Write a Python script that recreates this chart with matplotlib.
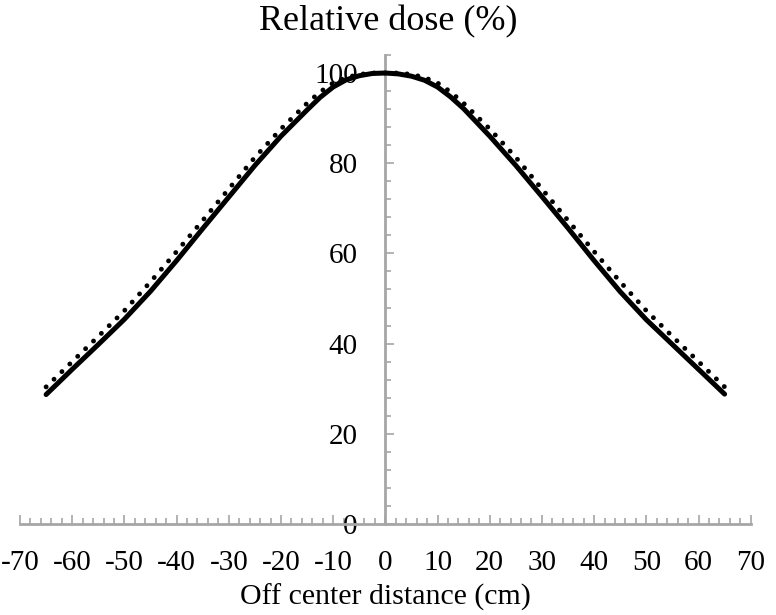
import matplotlib.pyplot as plt
from matplotlib.ticker import MultipleLocator

plt.rcParams["font.family"] = ["Liberation Serif", "DejaVu Serif"]
plt.rcParams["axes.unicode_minus"] = False

# off-center distance (cm)
distance = [-65, -60, -55, -50, -45, -40, -35, -30, -25, -20, -15, -12.5, -10, -7.5, -5, -2.5,
            0, 2.5, 5, 7.5, 10, 12.5, 15, 20, 25, 30, 35, 40, 45, 50, 55, 60, 65]
# relative dose (%), solid profile
dose_solid = [28.7, 34.3, 39.8, 45.4, 51.6, 58.4, 65.5, 72.5, 79.5, 86.0, 91.8, 94.6, 96.9, 98.5, 99.4, 99.9,
              100.0, 99.8, 99.3, 98.4, 96.9, 94.7, 92.1, 86.0, 79.5, 72.6, 65.6, 58.4, 51.5, 45.3, 39.8, 34.3, 28.8]
# relative dose (%), dotted profile
dose_dotted = [30.4, 36.0, 41.6, 47.3, 53.7, 60.4, 67.3, 74.3, 81.3, 87.6, 93.3, 95.8, 97.8, 99.0, 99.7, 100.0,
               100.0, 100.0, 99.7, 99.0, 97.8, 95.8, 93.3, 87.6, 81.3, 74.3, 67.3, 60.4, 53.7, 47.3, 41.6, 36.0, 30.4]

axis_grey = "#a6a6a6"

fig = plt.figure(figsize=(7.76, 6.15), dpi=100)
ax = fig.add_axes([0.0258, 0.148, 0.9416, 0.7626])

ax.plot(distance, dose_dotted, color="black", lw=3.5, ls=(0, (0.01, 2.25)),
        dash_capstyle="round", zorder=3)
ax.plot(distance, dose_solid, color="black", lw=3.6, solid_capstyle="round",
        solid_joinstyle="round", zorder=4)

ax.set_xlim(-70, 70)
ax.set_ylim(0, 104)

for side in ("top", "right"):
    ax.spines[side].set_visible(False)
ax.spines["left"].set_position(("data", 0))
for side in ("left", "bottom"):
    ax.spines[side].set_color(axis_grey)
    ax.spines[side].set_linewidth(2)

ax.xaxis.set_major_locator(MultipleLocator(10))
ax.xaxis.set_minor_locator(MultipleLocator(2))
ax.yaxis.set_major_locator(MultipleLocator(20))
ax.yaxis.set_minor_locator(MultipleLocator(4))

ax.tick_params(axis="both", which="both", direction="in", color=axis_grey,
               width=1.2, labelsize=21)
ax.tick_params(axis="both", which="major", length=6.5)
ax.tick_params(axis="both", which="minor", length=4.2)
ax.tick_params(axis="x", which="major", pad=19)
ax.tick_params(axis="y", which="major", pad=20)

ax.set_xlabel("Off center distance (cm)", fontsize=21.5, labelpad=5)
fig.text(0.5, 1 - 22 / 615, "Relative dose (%)", ha="center", va="center", fontsize=26)

fig.savefig("out.png", dpi=100)
